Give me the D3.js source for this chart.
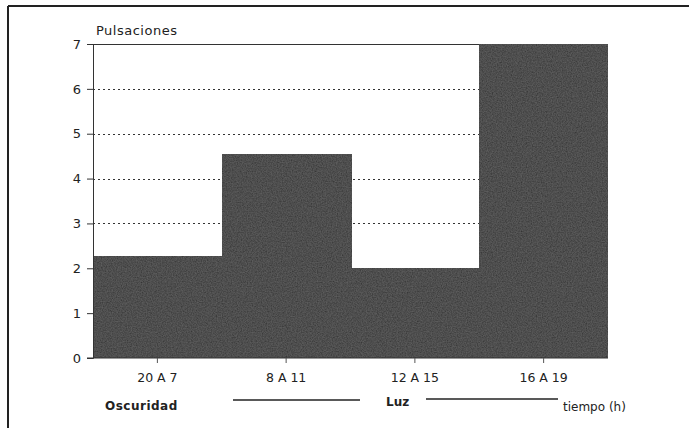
<!DOCTYPE html>
<html>
<head>
<meta charset="utf-8">
<script src="https://cdn.jsdelivr.net/npm/d3@7"></script>
<style>
body { margin: 0; background: #fff; }
text { font-family: "DejaVu Sans", sans-serif; fill: #222; }
</style>
</head>
<body>
<script>
// data
var categories = ["20 A 7", "8 A 11", "12 A 15", "16 A 19"];
var pulsaciones = [2.28, 4.55, 2.0, 7.0];
var yTicks = [0, 1, 2, 3, 4, 5, 6, 7];

var W = 689, H = 428;
var margin = {top: 44, right: 81, bottom: 70, left: 93};

var svg = d3.select("body").append("svg")
  .attr("width", W)
  .attr("height", H);

// frame (top + left only)
svg.append("line").attr("x1", 8).attr("x2", W).attr("y1", 6).attr("y2", 6)
  .attr("stroke", "#222").attr("stroke-width", 2);
svg.append("line").attr("x1", 8).attr("x2", 8).attr("y1", 6).attr("y2", H)
  .attr("stroke", "#222").attr("stroke-width", 2);

var x = d3.scaleBand().domain(categories)
  .range([margin.left, W - margin.right]).padding(0);
var y = d3.scaleLinear().domain([0, 7]).range([H - margin.bottom, margin.top]);

// dotted grid
svg.append("g").selectAll("line").data(yTicks.filter(function(d){ return d > 0 && d < 7; }))
  .enter().append("line")
  .attr("x1", margin.left).attr("x2", W - margin.right)
  .attr("y1", function(d){ return Math.round(y(d)) + 0.5; }).attr("y2", function(d){ return Math.round(y(d)) + 0.5; })
  .attr("stroke", "#333").attr("stroke-width", 1)
  .attr("stroke-dasharray", "2,3");

// top line
svg.append("line").attr("x1", margin.left).attr("x2", W - margin.right)
  .attr("y1", y(7) + 0.5).attr("y2", y(7) + 0.5).attr("stroke", "#333");

// texture filter for bars
var defs = svg.append("defs");
var f = defs.append("filter").attr("id", "grain")
  .attr("filterUnits", "userSpaceOnUse")
  .attr("x", 0).attr("y", 0).attr("width", W).attr("height", H);
f.append("feTurbulence").attr("type", "fractalNoise").attr("baseFrequency", 0.8).attr("numOctaves", 2).attr("seed", 3).attr("result", "n");
f.append("feColorMatrix").attr("in", "n").attr("type", "matrix")
  .attr("values", "0 0 0 0 0.7  0 0 0 0 0.7  0 0 0 0 0.7  0 0 0 0.14 0").attr("result", "nc");
f.append("feComposite").attr("in", "nc").attr("in2", "SourceGraphic").attr("operator", "in").attr("result", "nm");
var mg = f.append("feMerge");
mg.append("feMergeNode").attr("in", "SourceGraphic");
mg.append("feMergeNode").attr("in", "nm");

// bars (single group so the texture has no seams)
svg.append("g").attr("filter", "url(#grain)")
  .selectAll("rect").data(pulsaciones).enter().append("rect")
  .attr("x", function(d, i){ return Math.round(x(categories[i])); })
  .attr("y", function(d){ return Math.round(y(d)); })
  .attr("width", function(d, i){ return Math.round(x(categories[i]) + x.bandwidth()) - Math.round(x(categories[i])) + (i < 3 ? 1 : 0); })
  .attr("height", function(d){ return Math.round(y(0)) - Math.round(y(d)); })
  .attr("fill", "#333")
  .attr("shape-rendering", "crispEdges");

// y axis
var yAxis = svg.append("g").attr("transform", "translate(" + margin.left + ",0)")
  .call(d3.axisLeft(y).tickValues(yTicks).tickSize(6).tickPadding(6).tickFormat(d3.format("d")));
yAxis.select(".domain").attr("stroke", "#333");
yAxis.selectAll(".tick line").attr("stroke", "#333");
yAxis.selectAll("text").style("font-size", "13px").style("font-family", "DejaVu Sans, sans-serif").attr("fill", "#333");

// x axis
var xAxis = svg.append("g").attr("transform", "translate(0," + y(0) + ")")
  .call(d3.axisBottom(x).tickSize(5).tickPadding(10));
xAxis.select(".domain").attr("stroke", "#333").attr("d", "M" + (margin.left - 6) + ",0H" + (W - margin.right));
xAxis.selectAll(".tick line").attr("stroke", "#555");
xAxis.selectAll("text").style("font-size", "12.5px").style("font-family", "DejaVu Sans, sans-serif").attr("fill", "#333");

// titles
svg.append("text").attr("x", 96).attr("y", 35).text("Pulsaciones")
  .style("font-size", "13px").style("letter-spacing", "0.5px");

svg.append("text").attr("x", 105).attr("y", 410).text("Oscuridad")
  .style("font-size", "12px").style("font-weight", "bold").style("letter-spacing", "0.5px");
svg.append("line").attr("x1", 233).attr("x2", 360).attr("y1", 400).attr("y2", 400)
  .attr("stroke", "#222").attr("stroke-width", 1.5);
svg.append("text").attr("x", 386).attr("y", 406).text("Luz")
  .style("font-size", "12px").style("font-weight", "bold");
svg.append("line").attr("x1", 426).attr("x2", 558).attr("y1", 399).attr("y2", 399)
  .attr("stroke", "#222").attr("stroke-width", 1.5);
svg.append("text").attr("x", 563).attr("y", 411).text("tiempo (h)")
  .style("font-size", "12px");
</script>
</body>
</html>
